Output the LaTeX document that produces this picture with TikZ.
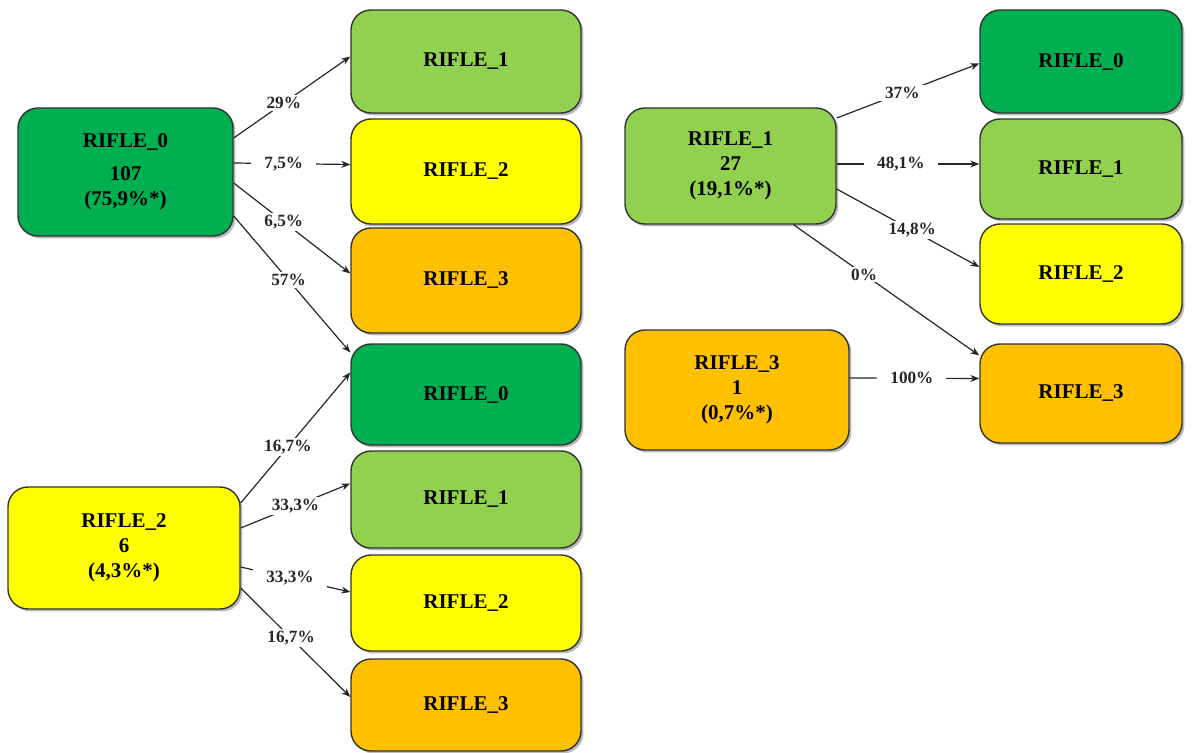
\documentclass[tikz,border=0pt]{standalone}
\usepackage{fontspec}
\setmainfont{Liberation Serif}
\usetikzlibrary{shadows,arrows.meta,calc}
\definecolor{dgreen}{HTML}{00B050}
\definecolor{lgreen}{HTML}{92D050}
\definecolor{yel}{HTML}{FFFF00}
\definecolor{org}{HTML}{FFC000}
\begin{document}
\begin{tikzpicture}[x=0.5pt,y=-0.5pt,
 box/.style={draw=black!80, line width=0.7pt, rounded corners=10pt, align=center,
   font=\bfseries\fontsize{10.5}{12.5}\selectfont, inner sep=2pt,
   drop shadow={shadow xshift=1.2pt,shadow yshift=-1.2pt,fill=black!45,opacity=0.6}},
 conn/.style={-{Stealth[length=4.5pt,width=3.5pt]}, line width=0.6pt, black!85},
 lbl/.style={fill=white, font=\bfseries\fontsize{8.6}{10}\selectfont, inner xsep=6.5pt, inner ysep=1pt}]
\useasboundingbox (0,0) rectangle (1192,753);
% sources
\node[box, fill=dgreen, minimum width=107.5pt, minimum height=64pt] (s0) at (125.5,172) {RIFLE\_0\\[4pt]107\\(75,9\%*)};
\node[box, fill=yel, minimum width=116pt, minimum height=61pt] (s2) at (124,548) {RIFLE\_2\\6\\(4,3\%*)};
\node[box, fill=lgreen, minimum width=105.5pt, minimum height=58pt] (s1) at (730.5,166) {RIFLE\_1\\27\\(19,1\%*)};
\node[box, fill=org, minimum width=112pt, minimum height=60pt] (s3) at (737,390) {RIFLE\_3\\1\\(0,7\%*)};
% left targets
\node[box, fill=lgreen, minimum width=115pt, minimum height=51.5pt] (a1) at (466,61.5) {RIFLE\_1};
\node[box, fill=yel, minimum width=115pt, minimum height=52.5pt] (a2) at (466,171.5) {RIFLE\_2};
\node[box, fill=org, minimum width=115pt, minimum height=52.5pt] (a3) at (466,280.5) {RIFLE\_3};
\node[box, fill=dgreen, minimum width=115pt, minimum height=50.5pt] (b0) at (466,394.5) {RIFLE\_0};
\node[box, fill=lgreen, minimum width=115pt, minimum height=48.5pt] (b1) at (466,499.5) {RIFLE\_1};
\node[box, fill=yel, minimum width=115pt, minimum height=48pt] (b2) at (466,603) {RIFLE\_2};
\node[box, fill=org, minimum width=115pt, minimum height=46pt] (b3) at (466,705) {RIFLE\_3};
% right targets
\node[box, fill=dgreen, minimum width=101pt, minimum height=51.5pt] (c0) at (1081,61.5) {RIFLE\_0};
\node[box, fill=lgreen, minimum width=101pt, minimum height=50pt] (c1) at (1081,169) {RIFLE\_1};
\node[box, fill=yel, minimum width=101pt, minimum height=50pt] (c2) at (1081,274) {RIFLE\_2};
\node[box, fill=org, minimum width=101pt, minimum height=49.5pt] (c3) at (1081,393.5) {RIFLE\_3};
% connectors from RIFLE_0
\draw[conn] ($(s0.east)+(0,-34)$) -- node[lbl,pos=0.43]{29\%} ($(a1.west)+(0,-5)$);
\draw[conn] ($(s0.east)+(0,-9)$) -- node[lbl,pos=0.43]{7,5\%} ($(a2.west)+(0,-7)$);
\draw[conn] ($(s0.east)+(0,11)$) -- node[lbl,pos=0.43]{6,5\%} ($(a3.west)+(0,-7)$);
\draw[conn] ($(s0.east)+(0,44)$) -- node[lbl,pos=0.47]{57\%} ($(b0.west)+(0,-42)$);
% connectors from RIFLE_2
\draw[conn] ($(s2.east)+(0,-45)$) -- node[lbl,pos=0.43]{16,7\%} ($(b0.west)+(0,-22)$);
\draw[conn] ($(s2.east)+(0,-20)$) -- node[lbl,pos=0.5]{33,3\%} ($(b1.west)+(0,-16)$);
\draw[conn] ($(s2.east)+(0,19)$) -- node[lbl,pos=0.45]{33,3\%} ($(b2.west)+(0,-11)$);
\draw[conn] ($(s2.east)+(0,40)$) -- node[lbl,pos=0.46]{16,7\%} ($(b3.west)+(0,-8)$);
% connectors from RIFLE_1
\draw[conn] ($(s1.east)+(0,-48)$) -- node[lbl,pos=0.46]{37\%} ($(c0.west)+(0,2)$);
\draw[conn] ($(s1.east)+(0,-2)$) -- node[lbl,pos=0.45]{48,1\%} ($(c1.west)+(0,-5)$);
\draw[conn] ($(s1.east)+(0,23)$) -- node[lbl,pos=0.53]{14,8\%} ($(c2.west)+(0,-7)$);
\draw[conn] ($(s1.south)+(63,0)$) -- node[lbl,pos=0.38]{0\%} ($(c3.west)+(0,-38)$);
% connector from RIFLE_3
\draw[conn] ($(s3.east)+(0,-12)$) -- node[lbl,pos=0.48]{100\%} ($(c3.west)+(0,-15)$);
\end{tikzpicture}
\end{document}
